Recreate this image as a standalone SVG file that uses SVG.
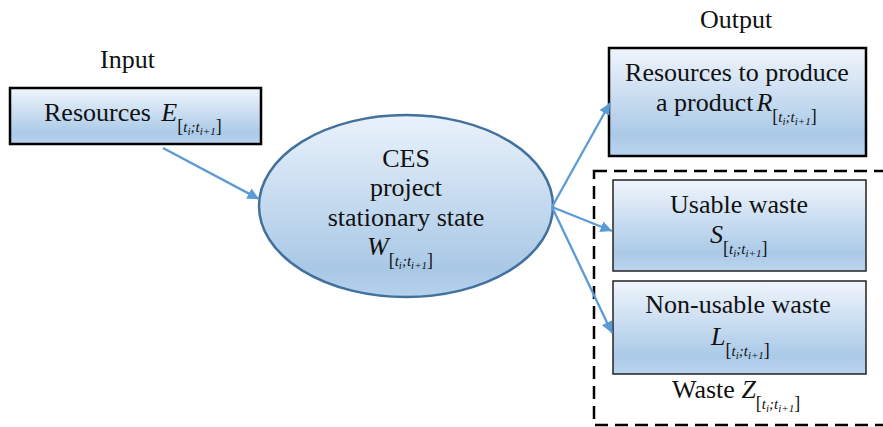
<svg xmlns="http://www.w3.org/2000/svg" width="883" height="427" viewBox="0 0 883 427">
<defs>
<linearGradient id="gb" x1="0" y1="0" x2="0" y2="1">
<stop offset="0" stop-color="#f0f5fc"/>
<stop offset="0.8" stop-color="#abcae8"/>
<stop offset="1" stop-color="#b9d4ee"/>
</linearGradient>
<linearGradient id="ge" x1="0" y1="0" x2="0" y2="1">
<stop offset="0" stop-color="#eaf2fb"/>
<stop offset="0.85" stop-color="#a9c8e6"/>
<stop offset="1" stop-color="#b6d2ec"/>
</linearGradient>
<marker id="ah" viewBox="0 0 10 10" refX="10" refY="5" markerWidth="5" markerHeight="5" orient="auto" markerUnits="strokeWidth">
<path d="M0,0 L10,5 L0,10 Z" fill="#5b9bd5"/>
</marker>
<style>
text{font-family:"Liberation Serif","Times New Roman",serif;fill:#111;}
.m{font-size:26px;}
.it{font-style:italic;font-size:26px;}
.sb{font-size:18px;font-style:normal;}
.st{font-size:15px;font-style:italic;}
.ss{font-size:11px;font-style:italic;}
.thick{fill:url(#gb);stroke:#000;stroke-width:2.5;}
.thin{fill:url(#gb);stroke:#222;stroke-width:1.5;}
.con{stroke:#5b9bd5;stroke-width:2.3;fill:none;marker-end:url(#ah);}
</style>
</defs>
<text class="m" x="100" y="68">Input</text>
<text class="m" x="700" y="28">Output</text>
<g id="waste-group">
<rect x="594" y="171" width="320" height="254" fill="none" stroke="#000" stroke-width="2.5" stroke-dasharray="13,7"/>
<text class="m" x="672" y="398">Waste <tspan class="it">Z</tspan><tspan class="sb" dy="11">[</tspan><tspan class="st">t</tspan><tspan class="ss" dy="3">i</tspan><tspan class="st" dy="-3">;t</tspan><tspan class="ss" dy="3">i+1</tspan><tspan class="sb" dy="-3">]</tspan></text>
</g>
<g id="input">
<rect x="10" y="88" width="251" height="56" class="thick"/>
<text class="m" x="44" y="121">Resources <tspan class="it" dx="4">E</tspan><tspan class="sb" dy="11">[</tspan><tspan class="st">t</tspan><tspan class="ss" dy="3">i</tspan><tspan class="st" dy="-3">;t</tspan><tspan class="ss" dy="3">i+1</tspan><tspan class="sb" dy="-3">]</tspan></text>
</g>
<g id="ces">
<ellipse cx="406" cy="206" rx="147" ry="91" fill="url(#ge)" stroke="#41719c" stroke-width="2.5"/>
<text class="m" x="406" y="167" text-anchor="middle">CES</text>
<text class="m" x="406" y="196" text-anchor="middle">project</text>
<text class="m" x="406" y="226" text-anchor="middle">stationary state</text>
<text class="m" x="367" y="255"><tspan class="it">W</tspan><tspan class="sb" dy="11">[</tspan><tspan class="st">t</tspan><tspan class="ss" dy="3">i</tspan><tspan class="st" dy="-3">;t</tspan><tspan class="ss" dy="3">i+1</tspan><tspan class="sb" dy="-3">]</tspan></text>
</g>
<g id="product">
<rect x="609" y="48" width="257" height="108" class="thick"/>
<text class="m" x="737" y="81" text-anchor="middle">Resources to produce</text>
<text class="m" x="656" y="111">a product<tspan class="it" dx="3">R</tspan><tspan class="sb" dy="11">[</tspan><tspan class="st">t</tspan><tspan class="ss" dy="3">i</tspan><tspan class="st" dy="-3">;t</tspan><tspan class="ss" dy="3">i+1</tspan><tspan class="sb" dy="-3">]</tspan></text>
</g>
<g id="usable">
<rect x="613" y="180" width="253" height="91" class="thin"/>
<text class="m" x="739" y="213" text-anchor="middle">Usable waste</text>
<text class="m" x="710" y="243"><tspan class="it">S</tspan><tspan class="sb" dy="11">[</tspan><tspan class="st">t</tspan><tspan class="ss" dy="3">i</tspan><tspan class="st" dy="-3">;t</tspan><tspan class="ss" dy="3">i+1</tspan><tspan class="sb" dy="-3">]</tspan></text>
</g>
<g id="nonusable">
<rect x="613" y="281" width="253" height="93" class="thin"/>
<text class="m" x="738" y="313" text-anchor="middle">Non-usable waste</text>
<text class="m" x="711" y="345"><tspan class="it">L</tspan><tspan class="sb" dy="11">[</tspan><tspan class="st">t</tspan><tspan class="ss" dy="3">i</tspan><tspan class="st" dy="-3">;t</tspan><tspan class="ss" dy="3">i+1</tspan><tspan class="sb" dy="-3">]</tspan></text>
</g>
<g id="connectors">
<line x1="163" y1="148" x2="259" y2="199" class="con"/>
<line x1="552" y1="207" x2="610" y2="103" class="con"/>
<line x1="552" y1="207" x2="612" y2="231" class="con"/>
<line x1="552" y1="207" x2="612" y2="333" class="con"/>
</g>
</svg>
